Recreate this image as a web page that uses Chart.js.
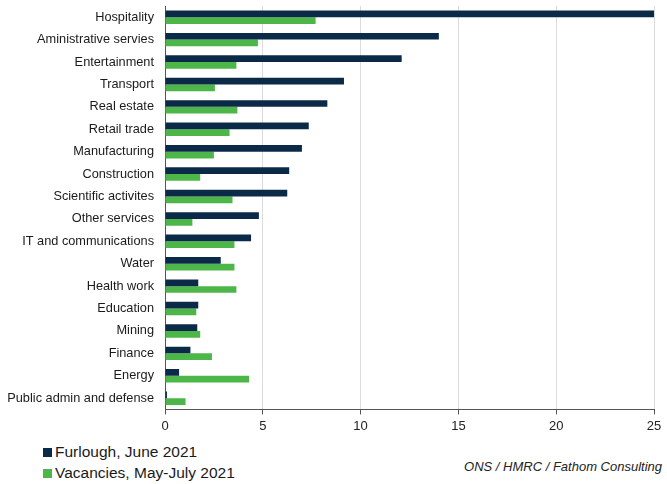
<!DOCTYPE html>
<html>
<head>
<meta charset="utf-8">
<script src="https://cdn.jsdelivr.net/npm/chart.js@4/dist/chart.umd.min.js"></script>
<style>
  html, body { margin: 0; padding: 0; background: #fff; }
  body { width: 667px; height: 484px; position: relative; overflow: hidden;
         font-family: "Liberation Sans", Arial, sans-serif; }
  .chart-container { position: absolute; left: 0; top: 0; width: 667px; height: 438px; }
  .legend { position: absolute; left: 43px; top: 441px; font-size: 15.5px; color: #1a1a1a; }
  .legend div { height: 21px; line-height: 21px; white-space: nowrap; }
  .legend span { display: inline-block; width: 9px; height: 9px; margin-right: 3px; vertical-align: 0px; }
  .source { position: absolute; right: 5px; top: 459px; font-size: 13px; font-style: italic; color: #222; }
</style>
</head>
<body>
<div class="chart-container"><canvas id="sectorChart"></canvas></div>
<div class="legend">
  <div><span style="background:#0b2a47"></span>Furlough, June 2021</div>
  <div><span style="background:#4cb648"></span>Vacancies, May-July 2021</div>
</div>
<div class="source">ONS / HMRC / Fathom Consulting</div>

<script>
// Sectors, top to bottom
const sectors = [
    'Hospitality', 'Aministrative servies', 'Entertainment', 'Transport',
    'Real estate', 'Retail trade', 'Manufacturing', 'Construction',
    'Scientific activites', 'Other services', 'IT and communications', 'Water',
    'Health work', 'Education', 'Mining', 'Finance', 'Energy',
    'Public admin and defense'
];

// Share of jobs on furlough, June 2021 (%)
const furlough = [25.0, 14.0, 12.1, 9.15, 8.3, 7.35, 7.0, 6.35, 6.25, 4.8, 4.4, 2.85,
                  1.7, 1.7, 1.65, 1.3, 0.72, 0.1];

// Vacancy rate, May-July 2021 (%)
const vacancies = [7.7, 4.75, 3.65, 2.55, 3.7, 3.3, 2.5, 1.8, 3.45, 1.4, 3.55, 3.55,
                   3.65, 1.6, 1.8, 2.4, 4.3, 1.05];

const xTicks = [0, 5, 10, 15, 20, 25];

const ctx = document.getElementById('sectorChart').getContext('2d');

new Chart(ctx, {
    type: 'bar',
    data: {
        labels: sectors,
        datasets: [
            {
                label: 'Furlough, June 2021',
                data: furlough,
                backgroundColor: '#0b2a47',
                categoryPercentage: 0.6,
                barPercentage: 1.0
            },
            {
                label: 'Vacancies, May-July 2021',
                data: vacancies,
                backgroundColor: '#4cb648',
                categoryPercentage: 0.6,
                barPercentage: 1.0
            }
        ]
    },
    options: {
        indexAxis: 'y',
        responsive: true,
        maintainAspectRatio: false,
        animation: false,
        layout: { padding: { top: 6, right: 13, left: 0, bottom: 0 } },
        scales: {
            x: {
                min: 0,
                max: 25,
                afterBuildTicks: axis => { axis.ticks = xTicks.map(v => ({ value: v })); },
                grid: {
                    color: '#dcdcdc',
                    tickColor: '#555',
                    tickLength: 5,
                    drawTicks: true
                },
                border: { color: '#555', width: 1 },
                ticks: {
                    color: '#222',
                    padding: 4,
                    font: { family: 'Liberation Sans', size: 13 }
                }
            },
            y: {
                grid: { display: false, drawTicks: false },
                border: { color: '#555', width: 1 },
                ticks: {
                    color: '#1a1a1a',
                    padding: 11,
                    font: { family: 'Liberation Sans', size: 12.75 }
                },
                afterFit: axis => {
                    axis.width = 165;
                    axis.paddingTop = 0;
                    axis.paddingBottom = 0;
                }
            }
        },
        plugins: {
            legend: { display: false },
            tooltip: { enabled: false }
        }
    }
});
</script>
</body>
</html>
